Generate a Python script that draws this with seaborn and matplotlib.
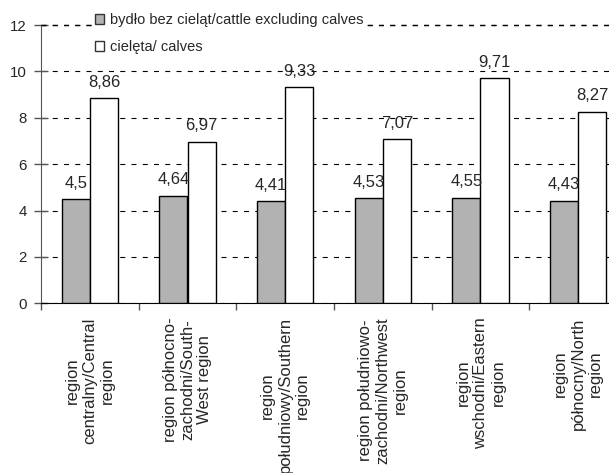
import pandas as pd
import matplotlib
matplotlib.use("Agg")
import matplotlib.pyplot as plt
import seaborn as sns
from matplotlib.patches import Patch

sns.set_style("white")
plt.rcParams["font.family"] = ["Liberation Sans", "DejaVu Sans"]
plt.rcParams["lines.scale_dashes"] = False

# Data
regions = [
    "region\ncentralny/Central\nregion",
    "region północno-\nzachodni/South-\nWest region",
    "region\npołudniowy/Southern\nregion",
    "region południowo-\nzachodni/Northwest\nregion",
    "region\nwschodni/Eastern\nregion",
    "region\npółnocny/North\nregion",
]
cattle = [4.50, 4.64, 4.41, 4.53, 4.55, 4.43]
calves = [8.86, 6.97, 9.33, 7.07, 9.71, 8.27]
series_names = ["bydło bez cieląt/cattle excluding calves", "cielęta/ calves"]
yticks = [0, 2, 4, 6, 8, 10, 12]

df = pd.DataFrame({
    "region": regions * 2,
    "value": cattle + calves,
    "series": [series_names[0]] * 6 + [series_names[1]] * 6,
})

colors = ["#b2b2b2", "#ffffff"]
grid_style = dict(color="black", linestyle=(0, (3.6, 4.5)), linewidth=0.8)

# pixel scale of the original: 23.19 px per unit, zero line at y=303.3
ymax = 12.06
px_per_unit = 23.19
fig = plt.figure(figsize=(6.09, 4.73), dpi=100)
# the plot area runs past the right edge of the picture (cropped original)
ax = fig.add_axes([41 / 609, 1 - 303.3 / 473, 586 / 609, ymax * px_per_unit / 473])

sns.barplot(data=df, x="region", y="value", hue="series", palette=colors,
            width=0.58, edgecolor="black", linewidth=1, saturation=1,
            legend=False, ax=ax, zorder=3)

for cont in ax.containers:
    ax.bar_label(cont, labels=[f"{b.get_height():.2f}".rstrip("0").replace(".", ",")
                               for b in cont], padding=6, fontsize=12)

ax.set_ylim(0, ymax)
ax.set_xlim(-0.5, 5.5)
ax.set_yticks(yticks)
ax.set_yticklabels([str(t) for t in yticks], fontsize=10.8)
ax.yaxis.grid(True, zorder=0, **grid_style)
# top dashed line, drawn again so it is not lost at the edge
ax.axhline(12, color="black", linestyle=(0, (3.6, 4.5)), linewidth=1.0, zorder=4)
ax.xaxis.grid(False)
ax.set_axisbelow(True)

# boundaries as major ticks, labels as minor ticks
ax.set_xticks([i - 0.5 for i in range(7)])
ax.set_xticklabels([])
ax.set_xticks(range(len(regions)), regions, minor=True)
ax.tick_params(axis="x", which="major", direction="out", length=5, width=1,
               color="#555555", bottom=True)
ax.tick_params(axis="x", which="minor", length=0, pad=10, labelsize=12)
for lab in ax.get_xticklabels(minor=True):
    lab.set_rotation(90)
    lab.set_multialignment("center")
    lab.set_va("top")
    lab.set_ha("center")
ax.tick_params(axis="y", direction="inout", length=10, width=1,
               color="#555555", left=True, pad=5)

for s in ["top", "right"]:
    ax.spines[s].set_visible(False)
ax.spines["left"].set_color("#555555")
ax.spines["left"].set_bounds(0, 12)
ax.spines["bottom"].set_color("black")
ax.set_xlabel("")
ax.set_ylabel("")

handles = [Patch(facecolor=c, edgecolor="#333333", linewidth=1) for c in colors]
leg = fig.legend(handles, series_names, loc="upper left",
                 bbox_to_anchor=(92 / 609, 1 - 10 / 473), fontsize=10.5,
                 handlelength=0.65, handleheight=0.65, handletextpad=0.4,
                 labelspacing=0.9, borderpad=0.2, borderaxespad=0,
                 frameon=True, fancybox=False)
leg.get_frame().set_facecolor("white")
leg.get_frame().set_edgecolor("none")
leg.get_frame().set_alpha(1)
leg.set_zorder(5)

fig.savefig("out.png", dpi=100)
